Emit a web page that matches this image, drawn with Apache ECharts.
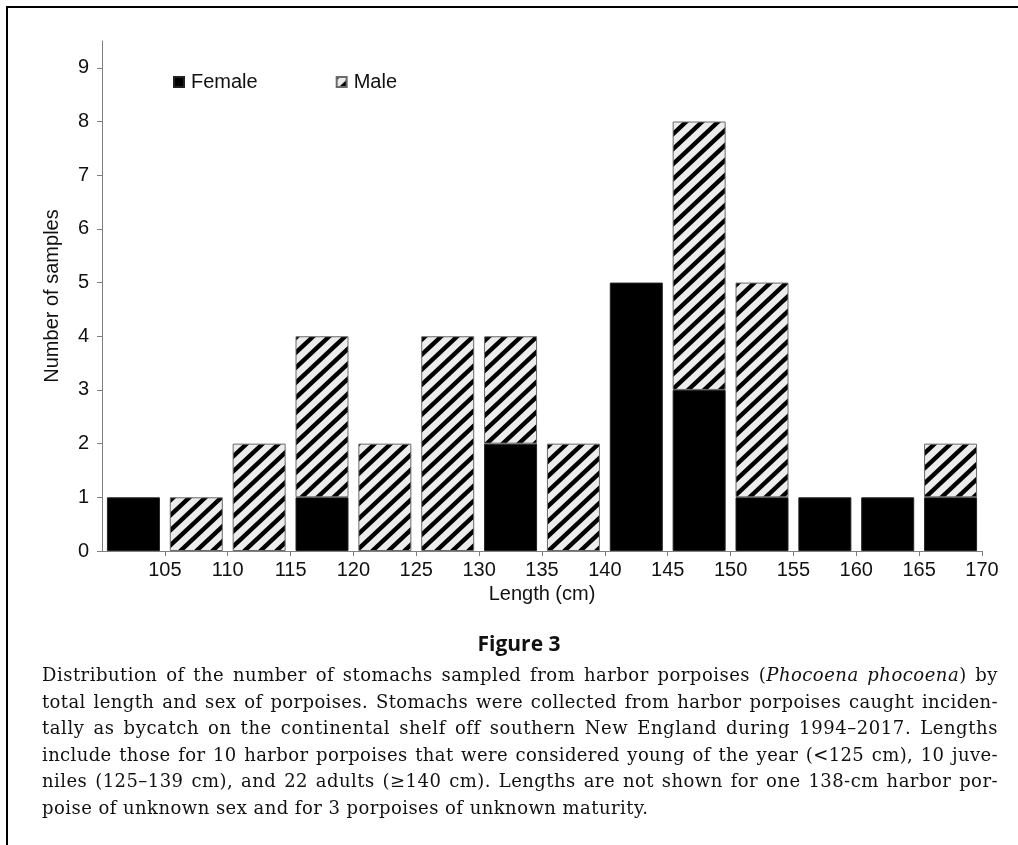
<!DOCTYPE html>
<html>
<head>
<meta charset="utf-8">
<script src="https://cdn.jsdelivr.net/npm/echarts@6/dist/echarts.min.js"></script>
<style>
  html, body { margin: 0; padding: 0; background: #fff; }
  #wrap { position: relative; width: 1018px; height: 845px; overflow: hidden; }
  #chart { position: absolute; left: 0; top: 0; width: 1018px; height: 845px; }
  #frame { position: absolute; left: 6px; top: 6px; right: -10px; bottom: -10px;
           border-top: 2px solid #000; border-left: 2px solid #000; pointer-events: none; }
  #caption { position: absolute; left: 42px; top: 662px; width: 956px;
             font-family: "DejaVu Serif", serif; font-size: 18px; color: #111; }
  #caption .ln { height: 26.5px; line-height: 26.5px; white-space: nowrap; }
</style>
</head>
<body>
<div id="wrap">
  <div id="chart"></div>
  <div id="frame"></div>
  <div id="caption"></div>
</div>
<script>
// ---- data ----
const binStarts = [100, 105, 110, 115, 120, 125, 130, 135, 140, 145, 150, 155, 160, 165];
const binWidth = 5;
const female = [1, 0, 0, 1, 0, 0, 2, 0, 5, 3, 1, 1, 1, 1];
const male   = [0, 1, 2, 3, 2, 4, 2, 2, 0, 5, 4, 0, 0, 1];
const yTicks = [0, 1, 2, 3, 4, 5, 6, 7, 8, 9];
const xTickStep = 5;
const seriesNames = ['Female', 'Male'];
const captionLines = [
  'Distribution of the number of stomachs sampled from harbor porpoises (<i>Phocoena phocoena</i>) by',
  'total length and sex of porpoises. Stomachs were collected from harbor porpoises caught inciden-',
  'tally as bycatch on the continental shelf off southern New England during 1994–2017. Lengths',
  'include those for 10 harbor porpoises that were considered young of the year (&lt;125 cm), 10 juve-',
  'niles (125–139 cm), and 22 adults (≥140 cm). Lengths are not shown for one 138-cm harbor por-',
  'poise of unknown sex and for 3 porpoises of unknown maturity.'
];

// ---- hatch pattern ----
function makeHatch() {
  const w = 16, h = 15;
  const c = document.createElement('canvas');
  c.width = w; c.height = h;
  const ctx = c.getContext('2d');
  ctx.fillStyle = '#ececec';
  ctx.fillRect(0, 0, w, h);
  ctx.strokeStyle = '#000';
  ctx.lineWidth = 4.4;
  ctx.beginPath();
  ctx.moveTo(-w, 2 * h); ctx.lineTo(2 * w, -h);
  ctx.moveTo(-2 * w, 2 * h); ctx.lineTo(w, -h);
  ctx.moveTo(0, 2 * h); ctx.lineTo(3 * w, -h);
  ctx.stroke();
  return c;
}
const hatch = { image: makeHatch(), repeat: 'repeat' };

const binLabels = binStarts.map(s => s + '–' + (s + binWidth));
const xMin = binStarts[0];
const xMax = binStarts[binStarts.length - 1] + binWidth;
function toData(vals) { return vals.map(v => (v === 0 ? '-' : v)); }

const FONT = 'Liberation Sans, Arial, sans-serif';
const chart = echarts.init(document.getElementById('chart'), null, { renderer: 'canvas' });
chart.setOption({
  animation: false,
  backgroundColor: 'transparent',
  grid: { left: 102, right: 36, top: 41, bottom: 294, containLabel: false },
  legend: {
    left: 168, top: 67,
    itemWidth: 10, itemHeight: 10, itemGap: 78,
    icon: 'rect',
    textStyle: { fontFamily: FONT, fontSize: 20, color: '#111', padding: [0, 0, 0, 2] },
    data: seriesNames
  },
  xAxis: [
    {
      type: 'category', data: binLabels, boundaryGap: true, show: false
    },
    {
      type: 'value', min: xMin, max: xMax, interval: xTickStep, position: 'bottom',
      name: 'Length (cm)', nameLocation: 'middle', nameGap: 32,
      nameTextStyle: { fontFamily: FONT, fontSize: 20, color: '#111' },
      axisLine: { show: true, onZero: false, lineStyle: { color: '#808080', width: 1 } },
      axisTick: { show: true, length: 5, lineStyle: { color: '#808080' } },
      axisLabel: { showMinLabel: false, margin: 9, fontFamily: FONT, fontSize: 20, color: '#111' },
      splitLine: { show: false }
    }
  ],
  yAxis: {
    type: 'value', min: 0, max: 9.5, interval: 1,
    name: 'Number of samples', nameLocation: 'middle', nameGap: 40, nameRotate: 90,
    nameTextStyle: { fontFamily: FONT, fontSize: 20, color: '#111' },
    axisLine: { show: true, lineStyle: { color: '#808080', width: 1 } },
    axisTick: { show: true, length: 5, customValues: yTicks, lineStyle: { color: '#808080' } },
    axisLabel: { customValues: yTicks, margin: 13, fontFamily: FONT, fontSize: 20, color: '#111' },
    splitLine: { show: false }
  },
  series: [
    {
      name: seriesNames[0], type: 'bar', stack: 'sex', barWidth: 53, xAxisIndex: 0,
      itemStyle: { color: '#000', borderColor: '#222', borderWidth: 1 },
      data: toData(female)
    },
    {
      name: seriesNames[1], type: 'bar', stack: 'sex', barWidth: 53, xAxisIndex: 0,
      itemStyle: { color: hatch, borderColor: '#6a6a6a', borderWidth: 1 },
      data: toData(male)
    }
  ],
  graphic: [
    {
      type: 'text', x: 519, y: 645,
      style: { text: 'Figure 3', align: 'center', verticalAlign: 'middle',
               font: 'bold 21px "Open Sans", "Noto Sans", sans-serif', fill: '#111' }
    }
  ]
});

// ---- caption (justified lines) ----
const cap = document.getElementById('caption');
const target = 956;
let lsSum = 0, lsCount = 0;
const spans = [];
captionLines.forEach((html) => {
  const d = document.createElement('div');
  d.className = 'ln';
  const sp = document.createElement('span');
  sp.innerHTML = html;
  d.appendChild(sp);
  cap.appendChild(d);
  spans.push(sp);
});
spans.forEach((sp, i) => {
  const text = sp.textContent;
  const natural = sp.getBoundingClientRect().width;
  if (i === spans.length - 1) {
    const ls = lsCount ? lsSum / lsCount : 0;
    sp.style.letterSpacing = ls + 'px';
    return;
  }
  const spaces = (text.match(/ /g) || []).length;
  const extra = target - natural;
  const ls = (extra * 0.6) / text.length;
  sp.style.letterSpacing = ls + 'px';
  lsSum += ls; lsCount++;
  const after = sp.getBoundingClientRect().width;
  const rest = target - after;
  if (spaces > 0) sp.style.wordSpacing = (rest / spaces) + 'px';
});
</script>
</body>
</html>
